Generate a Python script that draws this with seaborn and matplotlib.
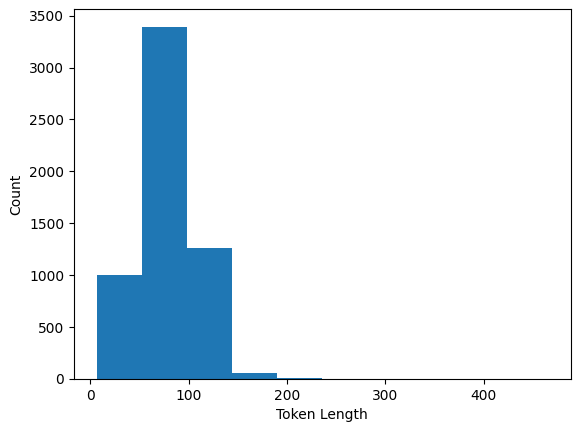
import numpy as np
import pandas as pd
import matplotlib
matplotlib.use("Agg")
import matplotlib.pyplot as plt
import seaborn as sns

# histogram: 10 equal bins between min and max token length
bin_edges = list(np.linspace(6.6, 465.0, 11))
bin_counts = [1003, 3392, 1262, 57, 9, 2, 1, 0, 0, 1]

df = pd.DataFrame({"token_length": [(a + b) / 2 for a, b in zip(bin_edges[:-1], bin_edges[1:])],
                   "count": bin_counts})

fig = plt.figure(figsize=(5.8, 4.32), dpi=100)
ax = fig.add_axes([74 / 580, 1 - 379 / 432, (570.5 - 74) / 580, (379 - 9.3) / 432])
sns.histplot(data=df, x="token_length", weights="count", bins=bin_edges,
             color="#1f77b4", alpha=1, linewidth=0, edgecolor="none", ax=ax)
ax.set_xlabel("Token Length")
ax.set_ylabel("Count")
span = bin_edges[-1] - bin_edges[0]
ax.set_xlim(bin_edges[0] - 0.05 * span, bin_edges[-1] + 0.05 * span)
ax.set_ylim(0, max(bin_counts) * 1.05)
fig.savefig("out.png", dpi=100)
